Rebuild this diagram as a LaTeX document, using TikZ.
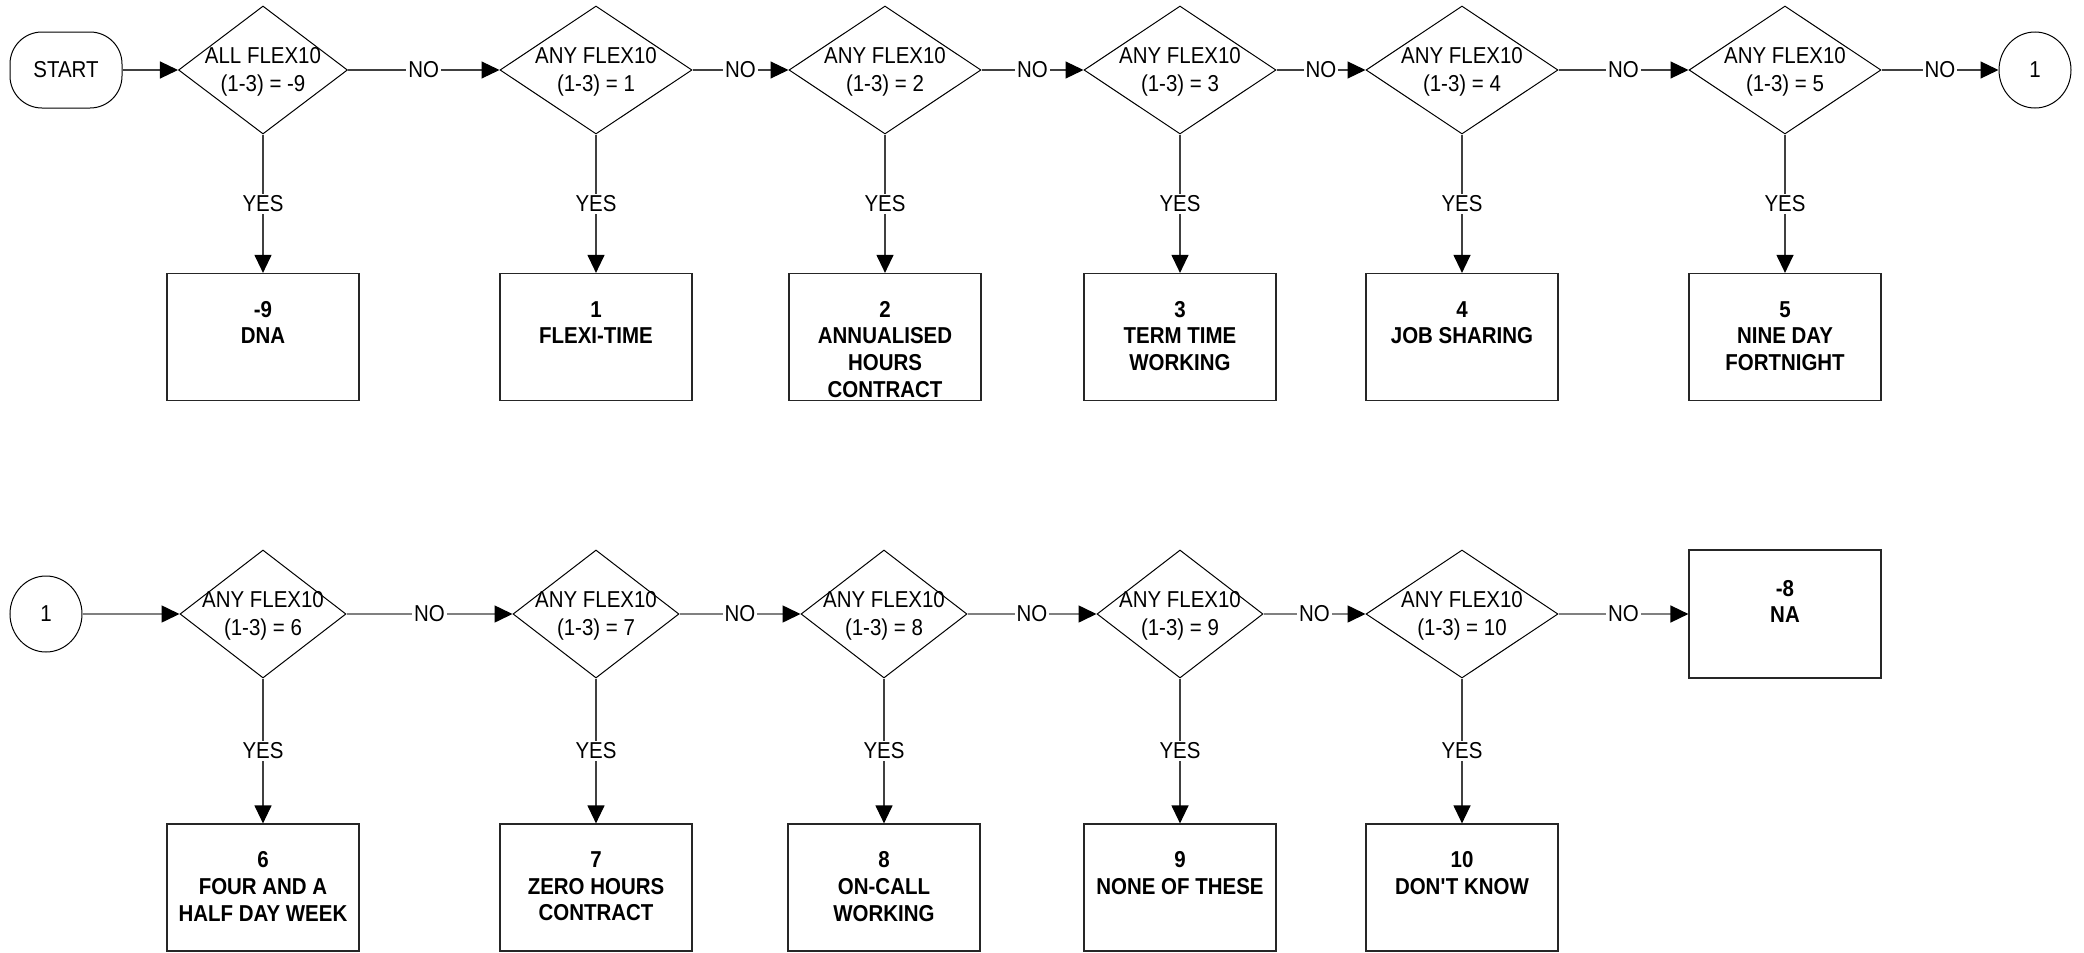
\documentclass[tikz,border=0pt]{standalone}
\usepackage{fontspec}
\setmainfont{Liberation Sans}[FakeStretch=0.89]
\usetikzlibrary{shapes.geometric,arrows.meta}
\begin{document}
\begin{tikzpicture}[x=0.5pt,y=-0.5pt,
  every node/.style={font=\fontsize{11.5}{13.8}\selectfont, text=black},
  dec/.style={draw=black, line width=0.5pt, diamond, minimum width=#1, minimum height=64pt, inner sep=0pt},
  dec/.default=96pt,
  dtxt/.style={align=center, inner sep=0pt},
  outbox/.style={draw=black!85, line width=0.6pt, rectangle, minimum width=96pt, minimum height=#1, inner sep=0pt},
  outbox/.default=63.5pt,
  btxt/.style={align=center, inner sep=0pt, anchor=north, font=\fontsize{11.5}{13.3}\selectfont\bfseries},
  term/.style={draw=black, line width=0.5pt, rectangle, rounded corners=16pt, minimum width=56pt, minimum height=38pt, inner sep=0pt},
  tip/.style={-{Triangle[length=9pt,width=8.5pt,fill=black,color=black]}},
  conn/.style={draw=black!75, line width=0.6pt, tip},
  connb/.style={draw=black!50, line width=0.8pt, tip},
  lbl/.style={fill=white, inner sep=1pt},
  onpage/.style={draw=black, line width=0.5pt, ellipse, minimum width=36pt, minimum height=38pt, inner sep=0pt}
]
\useasboundingbox (0,0) rectangle (2084,953);

% ---------- row 1 ----------
\node[term] (start) at (66,70) {START};
\node[dec=84.5pt] (d1) at (263,70) {};
\node[dec] (d2) at (596,70) {};
\node[dec] (d3) at (885,70) {};
\node[dec] (d4) at (1180,70) {};
\node[dec] (d5) at (1462,70) {};
\node[dec] (d6) at (1785,70) {};
\node[onpage] (c1) at (2035,70) {1};

\node[dtxt] (d1t) at ([yshift=-1pt]d1.center) {ALL FLEX10\\(1-3) = -9};
\node[dtxt] (d2t) at ([yshift=-1pt]d2.center) {ANY FLEX10\\(1-3) = 1};
\node[dtxt] (d3t) at ([yshift=-1pt]d3.center) {ANY FLEX10\\(1-3) = 2};
\node[dtxt] (d4t) at ([yshift=-1pt]d4.center) {ANY FLEX10\\(1-3) = 3};
\node[dtxt] (d5t) at ([yshift=-1pt]d5.center) {ANY FLEX10\\(1-3) = 4};
\node[dtxt] (d6t) at ([yshift=-1pt]d6.center) {ANY FLEX10\\(1-3) = 5};

\node[outbox] (b1) at (263,337) {};
\node[outbox] (b2) at (596,337) {};
\node[outbox] (b3) at (885,337) {};
\node[outbox] (b4) at (1180,337) {};
\node[outbox] (b5) at (1462,337) {};
\node[outbox] (b6) at (1785,337) {};

\node[btxt] (b1t) at ([yshift=-14pt]b1.north) {-9\\DNA};
\node[btxt] (b2t) at ([yshift=-14pt]b2.north) {1\\FLEXI-TIME};
\node[btxt] (b3t) at ([yshift=-14pt]b3.north) {2\\ANNUALISED\\HOURS\\CONTRACT};
\node[btxt] (b4t) at ([yshift=-14pt]b4.north) {3\\TERM TIME\\WORKING};
\node[btxt] (b5t) at ([yshift=-14pt]b5.north) {4\\JOB SHARING};
\node[btxt] (b6t) at ([yshift=-14pt]b6.north) {5\\NINE DAY\\FORTNIGHT};

\draw[conn] (start) -- (d1);
\draw[conn] (d1) -- node[lbl] (n1) {NO} (d2);
\draw[conn] (d2) -- node[lbl] (n2) {NO} (d3);
\draw[conn] (d3) -- node[lbl] (n3) {NO} (d4);
\draw[conn] (d4) -- node[lbl] (n4) {NO} (d5);
\draw[conn] (d5) -- node[lbl] (n5) {NO} (d6);
\draw[conn] (d6) -- node[lbl] (n6) {NO} (c1);

\draw[conn] (d1) -- node[lbl] (y1) {YES} (b1);
\draw[conn] (d2) -- node[lbl] (y2) {YES} (b2);
\draw[conn] (d3) -- node[lbl] (y3) {YES} (b3);
\draw[conn] (d4) -- node[lbl] (y4) {YES} (b4);
\draw[conn] (d5) -- node[lbl] (y5) {YES} (b5);
\draw[conn] (d6) -- node[lbl] (y6) {YES} (b6);

% ---------- row 2 ----------
\node[onpage] (c2) at (46,614) {1};
\node[dec=83pt] (d7) at (263,614) {};
\node[dec=83pt] (d8) at (596,614) {};
\node[dec=83pt] (d9) at (884,614) {};
\node[dec=83pt] (d10) at (1180,614) {};
\node[dec] (d11) at (1462,614) {};
\node[outbox=64pt] (na) at (1785,614) {};

\node[dtxt] (d7t) at ([yshift=-1pt]d7.center) {ANY FLEX10\\(1-3) = 6};
\node[dtxt] (d8t) at ([yshift=-1pt]d8.center) {ANY FLEX10\\(1-3) = 7};
\node[dtxt] (d9t) at ([yshift=-1pt]d9.center) {ANY FLEX10\\(1-3) = 8};
\node[dtxt] (d10t) at ([yshift=-1pt]d10.center) {ANY FLEX10\\(1-3) = 9};
\node[dtxt] (d11t) at ([yshift=-1pt]d11.center) {ANY FLEX10\\(1-3) = 10};
\node[btxt] (nat) at ([yshift=-15.2pt]na.north) {-8\\NA};

\node[outbox] (b7) at (263,887.5) {};
\node[outbox] (b8) at (596,887.5) {};
\node[outbox] (b9) at (884,887.5) {};
\node[outbox] (b10) at (1180,887.5) {};
\node[outbox] (b11) at (1462,887.5) {};

\node[btxt] (b7t) at ([yshift=-14pt]b7.north) {6\\FOUR AND A\\HALF DAY WEEK};
\node[btxt] (b8t) at ([yshift=-14pt]b8.north) {7\\ZERO HOURS\\CONTRACT};
\node[btxt] (b9t) at ([yshift=-14pt]b9.north) {8\\ON-CALL\\WORKING};
\node[btxt] (b10t) at ([yshift=-14pt]b10.north) {9\\NONE OF THESE};
\node[btxt] (b11t) at ([yshift=-14pt]b11.north) {10\\DON\textquotesingle T KNOW};

\draw[connb] (c2) -- (d7);
\draw[connb] (d7) -- node[lbl] (n7) {NO} (d8);
\draw[connb] (d8) -- node[lbl] (n8) {NO} (d9);
\draw[connb] (d9) -- node[lbl] (n9) {NO} (d10);
\draw[connb] (d10) -- node[lbl] (n10) {NO} (d11);
\draw[connb] (d11) -- node[lbl] (n11) {NO} (na);

\draw[conn] (d7) -- node[lbl] (y7) {YES} (b7);
\draw[conn] (d8) -- node[lbl] (y8) {YES} (b8);
\draw[conn] (d9) -- node[lbl] (y9) {YES} (b9);
\draw[conn] (d10) -- node[lbl] (y10) {YES} (b10);
\draw[conn] (d11) -- node[lbl] (y11) {YES} (b11);
\end{tikzpicture}
\end{document}
